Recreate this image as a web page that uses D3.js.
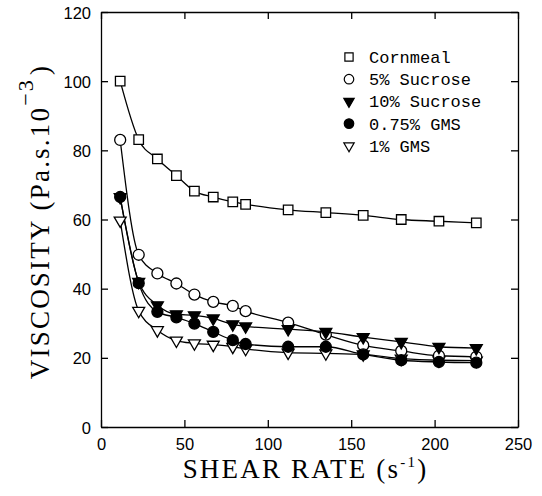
<!DOCTYPE html>
<html lang="en">
<head>
  <meta charset="UTF-8">
  <title>viscosity</title>
  <script src="https://cdn.jsdelivr.net/npm/d3@7"></script>
  <style>
    html, body { margin: 0; padding: 0; background: #fff; overflow: hidden; }
    svg { display: block; }
  </style>
</head>
<body>
  <svg width="542" height="496" id="mainsvg"></svg>
  <script>
    // shear rate (s-1), same for every series
    const shear = [11.5, 22.6, 33.8, 45.2, 56, 67.3, 79, 86.7, 112.2, 134.8, 157.2, 180, 202.6, 225];
    const cornmeal  = [100, 83.1, 77.5, 72.7, 68.2, 66.5, 65.1, 64.4, 62.8, 62.0, 61.2, 60.0, 59.5, 59.0];
    const sucrose5  = [83.0, 49.8, 44.4, 41.5, 38.3, 36.2, 35.0, 33.5, 30.2, 26.7, 23.6, 22.0, 20.6, 20.3];
    const sucrose10 = [66.5, 42.0, 35.2, 32.6, 32.3, 31.4, 29.7, 29.1, 28.3, 27.5, 26.0, 24.6, 23.2, 22.8];
    const gms075    = [66.5, 41.6, 33.3, 31.7, 29.9, 27.5, 25.1, 24.0, 23.2, 23.2, 21.0, 19.3, 18.8, 18.6];
    const gms1      = [59.7, 33.6, 28.0, 25.0, 24.2, 23.8, 23.2, 22.6, 21.5, 21.3, 21.0, 19.8, 19.3, 19.2];
    const names = ['Cornmeal', '5% Sucrose', '10% Sucrose', '0.75% GMS', '1% GMS'];
    const xTicks = [0, 50, 100, 150, 200, 250];
    const yTicks = [0, 20, 40, 60, 80, 100, 120];

    const svg = d3.select('#mainsvg');
    const margin = {top: 12, right: 24, bottom: 69, left: 101};
    const width = +svg.attr('width'), height = +svg.attr('height');
    const innerWidth = width - margin.left - margin.right;
    const innerHeight = height - margin.top - margin.bottom;

    const x = d3.scaleLinear().domain([0, 250]).range([0, innerWidth]);
    const y = d3.scaleLinear().domain([0, 120]).range([innerHeight, 0]);

    const g = svg.append('g').attr('transform', `translate(${margin.left},${margin.top})`);

    // axes: inward ticks on all four sides
    const tk = 7;
    const xAxisG = g.append('g').attr('class', 'axis')
      .attr('transform', `translate(0,${innerHeight})`)
      .call(d3.axisBottom(x).tickValues(xTicks).tickSizeInner(-tk).tickSizeOuter(0));
    g.append('g').attr('class', 'axis')
      .call(d3.axisTop(x).tickValues(xTicks).tickSizeInner(-tk).tickSizeOuter(0))
      .selectAll('text').remove();
    const yAxisG = g.append('g').attr('class', 'axis')
      .call(d3.axisLeft(y).tickValues(yTicks).tickSizeInner(-tk).tickSizeOuter(0));
    g.append('g').attr('class', 'axis')
      .attr('transform', `translate(${innerWidth},0)`)
      .call(d3.axisRight(y).tickValues(yTicks).tickSizeInner(-tk).tickSizeOuter(0))
      .selectAll('text').remove();

    g.selectAll('.axis path, .axis line').attr('stroke', '#000').attr('stroke-width', 1.3);
    g.selectAll('.axis text')
      .attr('font-family', 'Liberation Sans, Arial, sans-serif')
      .attr('font-size', 16.5).attr('fill', '#000');
    // plain pixel offsets for the tick labels
    xAxisG.selectAll('text').attr('dy', null).attr('y', 23);
    yAxisG.selectAll('text').attr('dy', null).attr('x', -10).attr('y', 6);

    // series
    const series = [
      {name: names[0], values: cornmeal,  symbol: d3.symbolSquare,   size: 90, fill: '#fff', rot: 0},
      {name: names[4], values: gms1,      symbol: d3.symbolTriangle, size: 62, fill: '#fff', rot: 180},
      {name: names[1], values: sucrose5,  symbol: d3.symbolCircle,   size: 95, fill: '#fff', rot: 0},
      {name: names[2], values: sucrose10, symbol: d3.symbolTriangle, size: 62, fill: '#000', rot: 180},
      {name: names[3], values: gms075,    symbol: d3.symbolCircle,   size: 95, fill: '#000', rot: 0}
    ];

    const line = d3.line()
      .x((d, i) => x(shear[i]))
      .y(d => y(d))
      .curve(d3.curveMonotoneX);

    series.forEach(s => {
      g.append('path')
        .attr('d', line(s.values))
        .attr('fill', 'none')
        .attr('stroke', '#000')
        .attr('stroke-width', 1.3);
    });

    series.forEach(s => {
      g.selectAll(null)
        .data(s.values)
        .join('path')
        .attr('d', d3.symbol(s.symbol, s.size))
        .attr('transform', (d, i) => `translate(${x(shear[i])},${y(d)}) rotate(${s.rot})`)
        .attr('fill', s.fill)
        .attr('stroke', '#000')
        .attr('stroke-width', 1.3);
    });

    // legend
    const legendOrder = [0, 2, 3, 4, 1];
    const lg = svg.append('g').attr('transform', 'translate(349,57)');
    legendOrder.forEach((k, i) => {
      const s = series[k];
      lg.append('path')
        .attr('d', d3.symbol(s.symbol, s.size * 0.75))
        .attr('transform', `translate(0,${i * 22.2}) rotate(${s.rot})`)
        .attr('fill', s.fill)
        .attr('stroke', '#000')
        .attr('stroke-width', 1.2);
      lg.append('text')
        .attr('x', 20)
        .attr('y', i * 22.2 + 6)
        .attr('font-family', 'Liberation Mono, Courier New, monospace')
        .attr('font-size', 17)
        .text(s.name);
    });

    // axis titles
    const xt = svg.append('text')
      .attr('x', margin.left + innerWidth / 2 - 4)
      .attr('y', 478)
      .attr('text-anchor', 'middle')
      .attr('font-family', 'Liberation Serif, Times New Roman, serif')
      .attr('font-size', 27)
      .attr('letter-spacing', 2.2);
    xt.append('tspan').text('SHEAR RATE (s');
    xt.append('tspan').attr('font-size', 15).attr('baseline-shift', 11).text('-1');
    xt.append('tspan').text(')');

    const yt = svg.append('text')
      .attr('transform', `translate(49,${margin.top + innerHeight / 2 + 2}) rotate(-90)`)
      .attr('text-anchor', 'middle')
      .attr('font-family', 'Liberation Serif, Times New Roman, serif')
      .attr('font-size', 27)
      .attr('letter-spacing', 2.2);
    yt.append('tspan').text('VISCOSITY (Pa.s.10');
    yt.append('tspan').attr('font-size', 22).attr('baseline-shift', 16).text('\u22123');
    yt.append('tspan').attr('dx', 3).text(')');
  </script>
</body>
</html>
